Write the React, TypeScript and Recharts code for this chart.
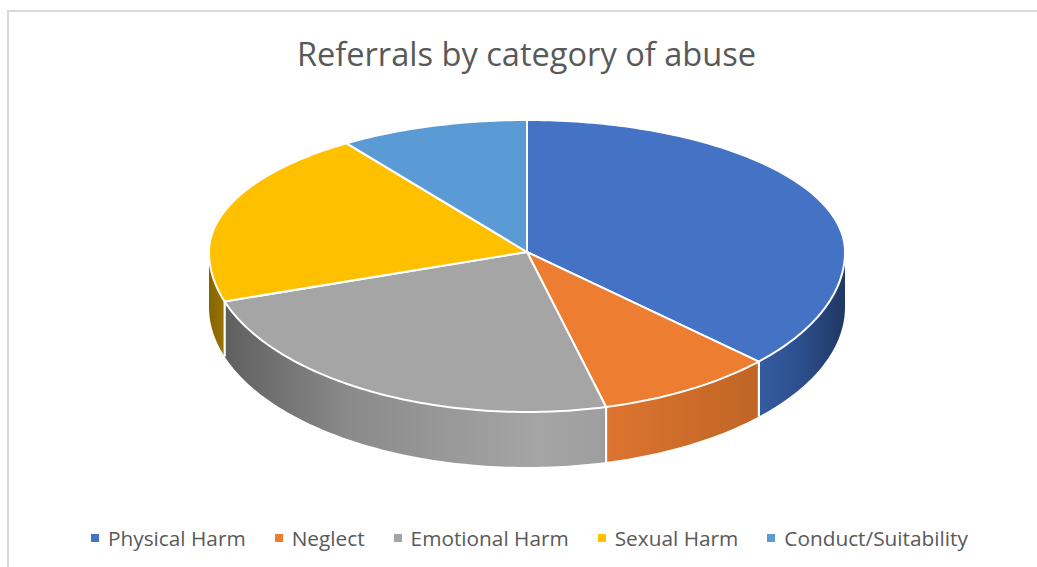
import { PieChart, Pie, Legend } from "recharts";

const categories = ["Physical Harm", "Neglect", "Emotional Harm", "Sexual Harm", "Conduct/Suitability"];
const shares = [37, 9, 24, 20.4, 9.6];
const colors = ["#4472c4", "#ed7d31", "#a5a5a5", "#ffc000", "#5b9bd5"];
const wallStops = [
  [["0%", "#345c9f"], ["45%", "#2e5090"], ["100%", "#1f3864"]],
  [["0%", "#dd7430"], ["100%", "#c06526"]],
  [["0%", "#5f5f5f"], ["32%", "#8a8a8a"], ["82%", "#a5a5a5"], ["100%", "#9e9e9e"]],
  [["0%", "#866500"], ["100%", "#9a7400"]],
  [["0%", "#5b9bd5"], ["100%", "#5b9bd5"]],
];

const data = categories.map((name, i) => ({ name, value: shares[i], fill: colors[i] }));

const CX = 527;
const CY = 252;
const RADIUS = 318;
// the tilted disc is foreshortened more behind the centre than in front of it
const SQUASH_BACK = 132 / 318;
const SQUASH_FRONT = 160 / 318;
const DEPTH = 55;
// the part of the rim facing the viewer, in degrees clockwise from the top
const RIM_START = 90;
const RIM_END = 270;

function project(cx: number, cy: number, r: number, theta: number) {
  const rad = (theta * Math.PI) / 180;
  const u = Math.sin(rad);
  const v = -Math.cos(rad);
  return { x: cx + r * u, y: cy + r * v * (v < 0 ? SQUASH_BACK : SQUASH_FRONT) };
}

function rim(cx: number, cy: number, r: number, from: number, to: number) {
  const pts = [];
  const steps = Math.max(2, Math.ceil(Math.abs(to - from)));
  for (let i = 0; i <= steps; i++) pts.push(project(cx, cy, r, from + ((to - from) * i) / steps));
  return pts;
}

const toPath = (pts: { x: number; y: number }[]) =>
  pts.map((p, i) => `${i ? "L" : "M"}${p.x.toFixed(2)} ${p.y.toFixed(2)}`).join(" ");

function Slice(props: any) {
  const { cx, cy, outerRadius, startAngle, endAngle, fill, name } = props;
  const idx = categories.indexOf(name);
  const from = 90 - startAngle;
  const to = 90 - endAngle;
  const top = rim(cx, cy, outerRadius, from, to);
  const wallFrom = Math.max(from, RIM_START);
  const wallTo = Math.min(to, RIM_END);
  let wall = null;
  if (wallTo > wallFrom) {
    const upper = rim(cx, cy, outerRadius, wallFrom, wallTo);
    const lower = upper.map((p) => ({ x: p.x, y: p.y + DEPTH })).reverse();
    const xs = upper.map((p) => p.x);
    const gid = `wall-${idx}`;
    const edges = [];
    if (from >= RIM_START) edges.push(upper[0]);
    if (to <= RIM_END) edges.push(upper[upper.length - 1]);
    wall = (
      <g>
        <defs>
          <linearGradient id={gid} gradientUnits="userSpaceOnUse" x1={Math.min(...xs)} x2={Math.max(...xs)} y1="0" y2="0">
            {idx === 0
              ? wallStops[idx].map(([o, c]) => <stop key={o} offset={o} stopColor={c} />)
              : wallStops[idx].map(([o, c]) => <stop key={o} offset={o} stopColor={c} />)}
          </linearGradient>
        </defs>
        <path d={`${toPath(upper)} ${toPath(lower).replace("M", "L")} Z`} fill={`url(#${gid})`} stroke="none" />
        {edges.map((p, i) => (
          <line key={i} x1={p.x} y1={p.y} x2={p.x} y2={p.y + DEPTH} stroke="#fff" strokeWidth={2} />
        ))}
      </g>
    );
  }
  return (
    <g>
      {wall}
      <path d={`M${cx} ${cy} ${toPath(top).replace("M", "L")} Z`} fill={fill} stroke="#fff" strokeWidth={2} strokeLinejoin="round" />
    </g>
  );
}

function LegendRow({ payload }: any) {
  return (
    <div style={{ display: "flex", justifyContent: "flex-start", paddingLeft: 91, fontFamily: "'Open Sans', sans-serif", fontSize: 20.8, color: "#595959", lineHeight: "26px" }}>
      {(payload || []).map((item: any) => (
        <div key={item.value} style={{ display: "flex", alignItems: "center", marginRight: 29 }}>
          <span style={{ width: 8, height: 8, background: item.color, marginRight: 9 }} />
          <span>{item.value}</span>
        </div>
      ))}
    </div>
  );
}

export default function App() {
  return (
    <div style={{ position: "absolute", left: 0, top: 0, width: 1037, height: 567, overflow: "hidden", background: "#fff" }}>
      <div style={{ position: "absolute", left: 7, top: 10, width: 1100, height: 700, border: "2px solid #d9d9d9" }} />
      <div style={{ position: "absolute", left: 0, top: 30, width: 1053, textAlign: "center", fontFamily: "'Open Sans', sans-serif", fontSize: 32.6, lineHeight: "48px", color: "#595959" }}>
        Referrals by category of abuse
      </div>
      <PieChart width={1037} height={567} margin={{ top: 0, right: 0, bottom: 0, left: 0 }} style={{ position: "absolute", left: 0, top: 0 }}>
        <Pie
          data={data}
          dataKey="value"
          nameKey="name"
          cx={CX}
          cy={CY}
          outerRadius={RADIUS}
          startAngle={90}
          endAngle={-270}
          legendType="square"
          shape={Slice}
          isAnimationActive={false}
        />
        <Legend content={LegendRow} itemSorter={null} wrapperStyle={{ left: 0, top: 525, width: 1037 }} />
      </PieChart>
    </div>
  );
}
